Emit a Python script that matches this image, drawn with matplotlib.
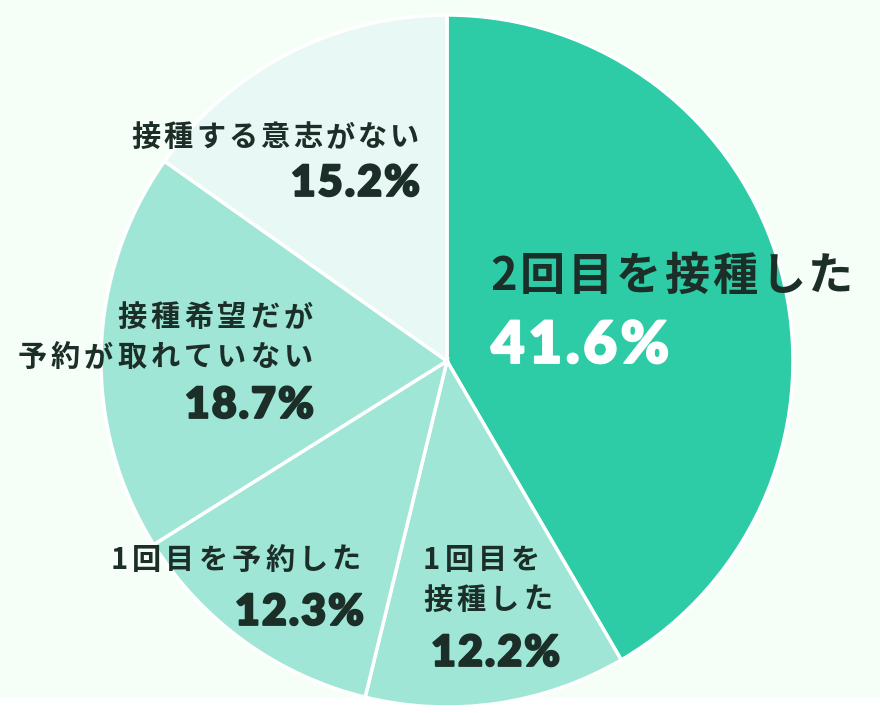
import matplotlib
matplotlib.use("Agg")
import matplotlib.pyplot as plt
import matplotlib.patheffects as pe
from matplotlib.patches import Rectangle

# data
labels = ["2回目を接種した", "1回目を\n接種した", "1回目を予約した",
          "接種希望だが\n予約が取れていない", "接種する意志がない"]
values = [41.6, 12.2, 12.3, 18.7, 15.2]
colors = ["#2ecca6", "#9fe6d6", "#9fe6d6", "#9fe6d6", "#e8f8f4"]

jp = ["Noto Sans CJK JP", "DejaVu Sans"]
txt_col = "#1c2e28"

W, H = 880, 713
fig = plt.figure(figsize=(W / 100, H / 100), dpi=100)
fig.patch.set_facecolor("white")
ax = fig.add_axes([0, 0, 1, 1])

# pale green panel, white strip at the bottom
ax.add_patch(Rectangle((0, H - 696), W, 696, color="#f5fff8", zorder=0))

cx, cy, r = 447, H - 361, 346
ax.pie(values, colors=colors, startangle=90, counterclock=False,
       center=(cx, cy), radius=r, frame=True,
       wedgeprops=dict(edgecolor="white", linewidth=2.5))
ax.set_xlim(0, W)
ax.set_ylim(0, H)
ax.set_aspect("equal")
ax.axis("off")

renderer = fig.canvas.get_renderer()


def tracked(x, ybase, s, size, track, ha="left", **kw):
    # draw a string char by char with extra letter spacing (1 data unit = 1 px)
    widths = []
    for ch in s:
        t = ax.text(0, 0, ch, fontsize=size, **kw)
        widths.append(t.get_window_extent(renderer).width)
        t.remove()
    total = sum(widths) + track * (len(s) - 1)
    x0 = x - total if ha == "right" else x
    for ch, w in zip(s, widths):
        ax.text(x0, H - ybase, ch, fontsize=size, ha="left", va="baseline", **kw)
        x0 += w + track


jp_kw = dict(family=jp, weight="bold", color=txt_col)


def pct_kw(col):
    return dict(family="Lato", weight="heavy", color=col,
                path_effects=[pe.withStroke(linewidth=1.3, foreground=col)])


JS, JT = 21, 4.2  # small label size / tracking

# 2回目を接種した
tracked(490, 290, labels[0], 32.5, 3.0, **jp_kw)
tracked(491, 363, f"{values[0]}%", 42, 3.5, **pct_kw("white"))

# 1回目を接種した
l1, l2 = labels[1].split("\n")
tracked(423, 569, l1, JS, JT, **jp_kw)
tracked(423, 609, l2, JS, JT, **jp_kw)
tracked(431, 666, f"{values[1]}%", 31, 2, **pct_kw(txt_col))

# 1回目を予約した
tracked(361, 569, labels[2], JS, JT, ha="right", **jp_kw)
tracked(364, 625, f"{values[2]}%", 31, 2, ha="right", **pct_kw(txt_col))

# 接種希望だが予約が取れていない
l1, l2 = labels[3].split("\n")
tracked(313, 326, l1, JS, JT, ha="right", **jp_kw)
tracked(313, 366, l2, JS, JT, ha="right", **jp_kw)
tracked(314, 418, f"{values[3]}%", 31, 2, ha="right", **pct_kw(txt_col))

# 接種する意志がない
tracked(419, 146, labels[4], JS, 3.2, ha="right", **jp_kw)
tracked(420, 196, f"{values[4]}%", 31, 2, ha="right", **pct_kw(txt_col))

fig.savefig("out.png", dpi=100, facecolor=fig.get_facecolor())
